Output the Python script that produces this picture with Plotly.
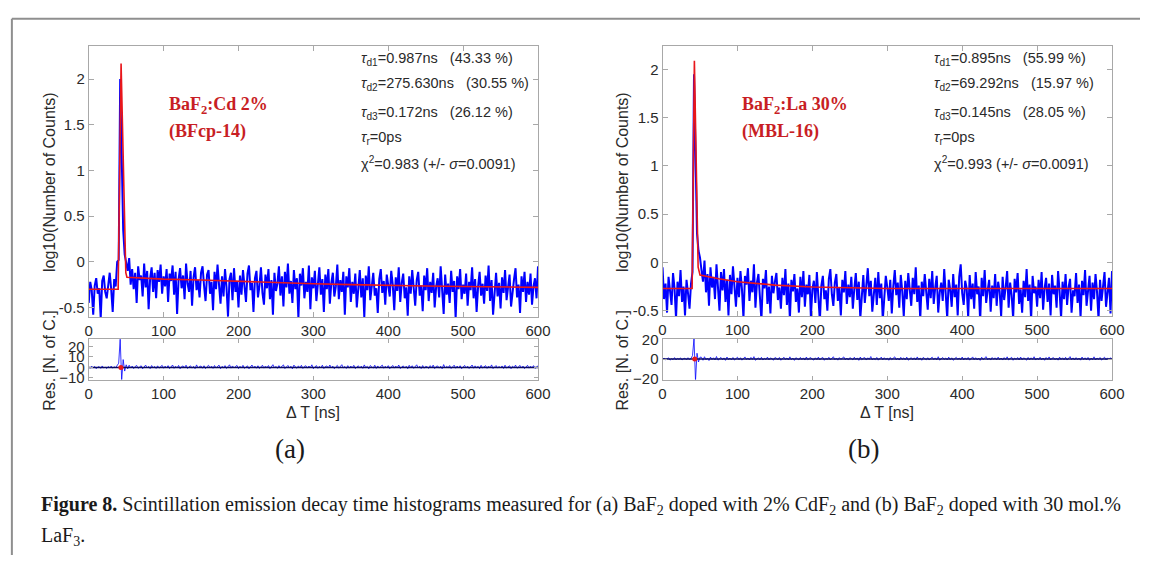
import numpy as np
import plotly.graph_objects as go

W, H = 1153, 562

# ---- time axis (2 ns bins) ----
t = np.arange(0, 601, 2)

# ---- (a) BaF2:Cd 2% : log10(counts) ----
counts_a = [
    -0.45, -0.22, -0.31, -0.58, -0.26, -0.18, -0.35, -0.29, -0.62, -0.21,
    -0.15, -0.33, -0.40, -0.24, -0.12, -0.30, -0.55, -0.19, -0.27, 0.00,
    0.02, 2.00, 1.30, 0.35, 0.08, -0.02,
    -0.10, 0.04, -0.25, -0.08, -0.30, -0.12, -0.45, -0.05, -0.20, -0.15, -0.38, -0.02, -0.28, -0.10, -0.52, -0.18, -0.06, -0.33, -0.12, -0.40, -0.09, -0.22, -0.03, -0.35, -0.16,
    -0.27, -0.08, -0.44, -0.13, -0.21, -0.04, -0.36, -0.11, -0.57, -0.19, -0.07, -0.29, -0.15, -0.41, -0.02, -0.24, -0.33, -0.10, -0.48, -0.17, -0.06, -0.31, -0.20, -0.39, -0.12,
    -0.05, -0.26, -0.43, -0.14, -0.09, -0.35, -0.22, -0.53, -0.11, -0.30, -0.03, -0.25, -0.46, -0.16, -0.38, -0.08, -0.28, -0.60, -0.19, -0.12, -0.42, -0.07, -0.33, -0.21, -0.50,
    -0.15, -0.36, -0.09, -0.27, -0.44, -0.13, -0.04, -0.31, -0.23, -0.55, -0.18, -0.10, -0.39, -0.26, -0.06, -0.34, -0.47, -0.14, -0.29, -0.08, -0.41, -0.20, -0.58, -0.12, -0.32,
    -0.24, -0.05, -0.37, -0.16, -0.49, -0.11, -0.28, -0.02, -0.35, -0.21, -0.45, -0.09, -0.30, -0.18, -0.62, -0.13, -0.26, -0.07, -0.40, -0.22, -0.33, -0.04, -0.52, -0.17, -0.29,
    -0.10, -0.43, -0.25, -0.06, -0.36, -0.19, -0.55, -0.14, -0.30, -0.08, -0.46, -0.23, -0.12, -0.38, -0.27, -0.03, -0.41, -0.20, -0.33, -0.11, -0.58, -0.16, -0.28, -0.07, -0.44,
    -0.22, -0.35, -0.13, -0.50, -0.26, -0.09, -0.39, -0.18, -0.61, -0.15, -0.31, -0.05, -0.42, -0.24, -0.12, -0.37, -0.29, -0.56, -0.19, -0.08, -0.34, -0.21, -0.47, -0.14, -0.27,
    -0.38, -0.10, -0.25, -0.53, -0.17, -0.32, -0.06, -0.44, -0.23, -0.13, -0.40, -0.28, -0.59, -0.16, -0.35, -0.09, -0.30, -0.48, -0.20, -0.11, -0.37, -0.26, -0.54, -0.15, -0.31,
    -0.07, -0.43, -0.22, -0.34, -0.12, -0.50, -0.27, -0.18, -0.39, -0.05, -0.29, -0.57, -0.14, -0.36, -0.24, -0.45, -0.10, -0.33, -0.21, -0.62, -0.16, -0.30, -0.08, -0.41, -0.25,
    -0.35, -0.13, -0.48, -0.22, -0.31, -0.06, -0.40, -0.19, -0.55, -0.27, -0.11, -0.37, -0.24, -0.46, -0.15, -0.32, -0.04, -0.43, -0.20, -0.58, -0.28, -0.12, -0.38, -0.23, -0.51,
    -0.17, -0.34, -0.09, -0.42, -0.26, -0.14, -0.49, -0.30, -0.19, -0.07, -0.39, -0.25, -0.56, -0.16, -0.33, -0.11, -0.44, -0.22, -0.36, -0.13, -0.47, -0.27, -0.18, -0.40, -0.05,
]

fit_a_t = [0, 39.3, 43.2, 49.5, 51, 75, 100, 150, 200, 250, 300, 350, 400, 450, 500, 550, 600]
fit_a_y = [-0.30, -0.30, 2.17, -0.12, -0.17, -0.18, -0.19, -0.20, -0.215, -0.23, -0.24, -0.25, -0.26, -0.265, -0.27, -0.275, -0.28]

res_a = [
    0.6, -0.8, 1.1, -0.4, 0.9, -1.2, 0.3, 0.7, -0.9, 1.4, -0.5, 0.2, -1.0, 0.8, -0.3, 1.2, -0.7, 0.5, -0.2, 1.6,
    4.0, 27.0, -12.0, 7.5, -3.5, 2.5,
    -1.4, 2.1, -0.6, 1.3, -1.1, 0.8, 1.9, -0.9, 0.4, 1.6, -1.3, 0.7, 2.2, -0.5, 1.0, -1.2, 1.8, -0.3, 0.9, -1.0, 1.5, -0.7, 0.6, 2.0, -0.8,
    1.2, -0.4, 1.7, -1.1, 0.5, 2.3, -0.9, 1.1, -0.6, 1.9, -1.3, 0.8, 1.4, -0.2, 2.1, -1.0, 0.6, 1.5, -0.7, 1.0, -1.2, 2.4, -0.5, 0.9, 1.3,
    -0.8, 1.6, -1.1, 0.7, 2.0, -0.4, 1.2, -0.9, 1.8, -0.6, 0.5, 2.2, -1.2, 1.0, -0.3, 1.7, -1.0, 0.8, 2.5, -0.7, 1.4, -0.5, 0.6, 1.9, -1.1,
    1.1, -0.6, 2.0, -0.9, 0.7, 1.5, -1.3, 0.9, 2.3, -0.4, 1.2, -0.8, 1.6, -1.0, 0.5, 2.1, -0.7, 1.3, -0.2, 1.8, -1.2, 0.8, 2.6, -0.5, 1.0,
    -0.9, 1.7, -0.3, 1.2, 2.4, -1.1, 0.6, 1.9, -0.6, 1.1, -1.3, 2.2, 0.4, -0.8, 1.5, -0.5, 2.0, -1.0, 0.9, 1.6, -0.7, 1.3, -0.2, 2.5, -1.2,
    0.7, 1.8, -0.9, 1.0, -0.4, 2.1, -1.1, 0.8, 1.4, -0.6, 2.3, -0.3, 1.2, -1.2, 0.5, 1.9, -0.8, 1.1, 2.6, -0.5, 0.9, -1.0, 1.7, -0.7, 1.3,
    -0.4, 2.0, -1.1, 0.8, 1.6, -0.6, 1.2, -0.9, 2.4, -0.2, 1.0, -1.3, 1.8, 0.5, -0.7, 2.1, -1.0, 1.4, -0.5, 0.9, 2.2, -0.8, 1.1, -0.3, 1.7,
    -1.2, 0.6, 1.9, -0.7, 1.3, -0.4, 2.3, -1.0, 0.8, 1.5, -0.6, 1.1, -1.2, 2.0, -0.3, 1.6, -0.9, 0.7, 2.5, -0.5, 1.2, -1.1, 1.8, -0.8, 1.0,
    0.5, -0.9, 1.7, -0.4, 2.2, -1.1, 0.9, 1.4, -0.7, 1.1, -1.3, 2.7, -0.5, 1.0, -0.2, 1.8, -1.0, 0.6, 2.1, -0.8, 1.3, -0.6, 1.6, -1.2, 0.8,
    1.9, -0.5, 1.2, -1.0, 0.7, 2.3, -0.8, 1.5, -0.3, 1.1, -1.2, 2.0, -0.6, 0.9, 1.7, -0.9, 1.3, -0.4, 2.4, -1.1, 0.6, 1.8, -0.7, 1.0, -0.5,
    1.4, -1.0, 2.1, -0.6, 0.8, 1.6, -1.2, 1.1, -0.3, 2.2, -0.8, 0.7, 1.9, -0.5, 1.3, -1.1, 0.9, 2.0, -0.7, 1.2, -0.4, 1.7, -0.9, 0.6, 1.5,
]

# ---- (b) BaF2:La 30% : log10(counts) ----
counts_b = [
    -0.05, -0.38, -0.22, -0.52, -0.15, -0.30, -0.44, -0.11, -0.27, -0.58,
    -0.20, -0.35, -0.08, -0.41, -0.25, -0.55, -0.18, -0.32, -0.48, -0.22,
    -0.10, 1.95, 1.10, 0.30, 0.12, 0.05,
    -0.08, -0.20, 0.02, -0.31, -0.12, -0.45, -0.05, -0.26, -0.15, -0.38, -0.02, -0.22, -0.50, -0.10, -0.29, -0.07, -0.41, -0.18, -0.55, -0.13, -0.33, -0.04, -0.24, -0.46, -0.16,
    -0.36, -0.09, -0.28, -0.58, -0.14, -0.23, -0.06, -0.40, -0.19, -0.31, -0.02, -0.47, -0.21, -0.12, -0.35, -0.60, -0.17, -0.27, -0.08, -0.43, -0.25, -0.53, -0.14, -0.32, -0.20,
    -0.11, -0.39, -0.26, -0.48, -0.16, -0.34, -0.07, -0.44, -0.22, -0.59, -0.18, -0.30, -0.12, -0.41, -0.27, -0.52, -0.15, -0.36, -0.09, -0.46, -0.23, -0.33, -0.13, -0.57, -0.28,
    -0.19, -0.42, -0.10, -0.35, -0.61, -0.24, -0.14, -0.38, -0.29, -0.50, -0.17, -0.07, -0.33, -0.45, -0.21, -0.12, -0.40, -0.26, -0.55, -0.18, -0.31, -0.09, -0.43, -0.23, -0.36,
    -0.15, -0.48, -0.27, -0.11, -0.39, -0.20, -0.58, -0.30, -0.13, -0.42, -0.24, -0.06, -0.35, -0.19, -0.51, -0.28, -0.16, -0.44, -0.10, -0.37, -0.22, -0.60, -0.31, -0.14, -0.26,
    -0.40, -0.18, -0.53, -0.25, -0.08, -0.34, -0.21, -0.47, -0.13, -0.30, -0.56, -0.19, -0.38, -0.11, -0.27, -0.45, -0.16, -0.33, -0.05, -0.41, -0.24, -0.59, -0.20, -0.35, -0.12,
    -0.29, -0.49, -0.17, -0.37, -0.09, -0.43, -0.26, -0.14, -0.52, -0.31, -0.21, -0.40, -0.07, -0.34, -0.58, -0.18, -0.28, -0.46, -0.12, -0.36, -0.23, -0.55, -0.15, -0.02, -0.32,
    -0.44, -0.19, -0.27, -0.57, -0.13, -0.38, -0.22, -0.48, -0.10, -0.33, -0.25, -0.61, -0.16, -0.35, -0.08, -0.42, -0.29, -0.18, -0.51, -0.24, -0.37, -0.12, -0.45, -0.20, -0.30,
    -0.56, -0.15, -0.39, -0.26, -0.09, -0.47, -0.21, -0.34, -0.58, -0.17, -0.31, -0.11, -0.43, -0.28, -0.52, -0.19, -0.36, -0.07, -0.40, -0.23, -0.60, -0.14, -0.32, -0.25, -0.46,
    -0.18, -0.37, -0.10, -0.49, -0.27, -0.16, -0.41, -0.22, -0.55, -0.13, -0.33, -0.24, -0.47, -0.09, -0.30, -0.58, -0.20, -0.38, -0.12, -0.44, -0.26, -0.17, -0.52, -0.29, -0.35,
    -0.11, -0.42, -0.23, -0.57, -0.19, -0.34, -0.08, -0.45, -0.27, -0.14, -0.50, -0.21, -0.38, -0.12, -0.31, -0.59, -0.18, -0.40, -0.25, -0.10, -0.46, -0.29, -0.16, -0.53, -0.09,
]

fit_b_t = [0, 39.5, 42.5, 47.5, 50, 75, 100, 150, 200, 250, 300, 400, 500, 600]
fit_b_y = [-0.27, -0.27, 2.09, -0.05, -0.13, -0.17, -0.20, -0.235, -0.255, -0.265, -0.27, -0.27, -0.27, -0.27]

res_b = [
    -0.5, 1.0, -0.8, 0.6, 1.3, -1.1, 0.4, -0.6, 1.5, -0.9, 0.7, -0.3, 1.2, -1.0, 0.5, 0.9, -0.7, 1.4, -0.4, 0.8,
    3.5, 21.0, -22.0, 6.0, -3.0, 2.0,
    1.8, -1.2, 2.4, -0.7, 1.1, -1.5, 2.0, -0.4, 1.3, -0.9, 2.6, -1.1, 0.8, 1.7, -0.6, 1.2, -1.3, 2.1, -0.5, 1.0, -0.8, 1.6, -1.0, 0.7, 1.9,
    -0.6, 1.4, -1.1, 0.9, 2.2, -0.4, 1.1, -0.9, 1.7, -0.3, 2.5, -1.2, 0.6, 1.3, -0.7, 1.8, -1.0, 0.8, -0.5, 2.0, -0.8, 1.2, 0.4, -1.1, 1.5,
    0.9, -0.7, 1.6, -1.2, 0.5, 1.9, -0.4, 1.1, -0.9, 2.3, -0.6, 1.0, -1.3, 1.4, 0.3, -0.8, 1.7, -0.5, 1.2, -1.0, 2.1, -0.7, 0.8, 1.5, -0.3,
    -1.0, 1.3, -0.5, 2.0, -0.8, 0.9, 1.6, -1.2, 0.7, -0.4, 1.8, -0.9, 1.2, 2.4, -0.6, 1.0, -1.1, 1.5, -0.3, 0.8, 2.2, -0.7, 1.1, -1.0, 1.4,
    0.6, -0.8, 1.9, -0.4, 1.2, -1.3, 2.1, -0.6, 0.9, 1.5, -1.0, 1.3, -0.2, 2.6, -0.9, 0.7, -0.5, 1.7, -1.1, 1.0, 2.0, -0.7, 1.4, -0.4, 0.8,
    -1.2, 1.6, -0.5, 1.1, 2.3, -0.8, 0.9, -1.0, 1.8, -0.3, 1.2, -0.7, 2.0, -1.1, 0.6, 1.5, -0.6, 1.3, -0.9, 2.2, -0.4, 1.0, -1.2, 1.7, 0.5,
    -0.7, 1.4, -1.0, 0.8, 1.9, -0.5, 1.2, -0.8, 2.4, -1.1, 0.7, 1.6, -0.4, 1.1, -0.9, 2.0, -0.6, 1.3, -1.2, 0.9, 1.8, -0.3, 1.0, -0.7, 2.1,
    -0.9, 1.2, -0.4, 1.7, -1.1, 0.8, 2.2, -0.6, 1.4, -0.8, 1.0, -1.3, 1.9, -0.5, 1.1, 2.5, -0.7, 0.9, -1.0, 1.6, -0.2, 1.3, -0.8, 2.0, -0.6,
    1.1, -1.0, 1.5, -0.5, 2.3, -0.8, 0.7, 1.8, -1.2, 1.0, -0.4, 1.6, -0.9, 2.1, -0.6, 1.2, 0.4, -1.1, 1.7, -0.7, 1.3, -0.3, 2.4, -1.0, 0.8,
    -0.5, 1.9, -0.8, 1.1, -1.2, 1.6, -0.3, 2.2, -0.9, 0.9, 1.4, -0.6, 1.0, -1.1, 2.0, -0.4, 1.3, -0.7, 1.8, -1.0, 0.7, 2.5, -0.5, 1.2, -0.9,
    1.5, -0.6, 1.0, -1.1, 2.1, -0.4, 1.3, -0.8, 1.7, -1.2, 0.9, -0.5, 2.3, -0.9, 1.1, -0.3, 1.6, -1.0, 0.8, 1.9, -0.7, 1.2, -0.4, 1.4, -0.8,
]

peak_t = [43.0]  # position of the fit maximum, marked on the residual panels

# ---- fit parameter text ----
params_a = [
    ("d1", "0.987ns", "43.33 %"),
    ("d2", "275.630ns", "30.55 %"),
    ("d3", "0.172ns", "26.12 %"),
]
chi_a = ("0.983", "0.0091")
params_b = [
    ("d1", "0.895ns", "55.99 %"),
    ("d2", "69.292ns", "15.97 %"),
    ("d3", "0.145ns", "28.05 %"),
]
chi_b = ("0.993", "0.0091")

sample_a = ("BaF<sub>2</sub>:Cd 2%", "(BFcp-14)")
sample_b = ("BaF<sub>2</sub>:La 30%", "(MBL-16)")

xticks = [0, 100, 200, 300, 400, 500, 600]
yticks_main = [-0.5, 0, 0.5, 1, 1.5, 2]
yticklabels_main = ["-0.5", "0", "0.5", "1", "1.5", "2"]
yticks_res_a = [-10, 0, 10, 20]
yticks_res_b = [-20, 0, 20]


def px(x):
    return x / W


def py(y):
    return 1 - y / H


BLUE = "#0000ff"
RED = "#e8161b"
NAVY = "#0a0a60"
LABEL_RED = "#c81e24"
AXC = "#a8a8a8"
TXT = "#2a2a2a"
SANS = "Liberation Sans, Arial, sans-serif"
SERIF = "Liberation Serif, Times New Roman, serif"

fig = go.Figure()

panels = [
    ("x", "y", "x2", "y2", counts_a, fit_a_t, fit_a_y, res_a),
    ("x3", "y3", "x4", "y4", counts_b, fit_b_t, fit_b_y, res_b),
]
for xm, ym, xr, yr, cnt, ft, fy, rs in panels:
    fig.add_trace(go.Scatter(x=t, y=cnt, xaxis=xm, yaxis=ym, mode="lines",
                             line=dict(color=BLUE, width=2), hoverinfo="skip"))
    fig.add_trace(go.Scatter(x=ft, y=fy, xaxis=xm, yaxis=ym, mode="lines",
                             line=dict(color=RED, width=1.6), hoverinfo="skip"))
    fig.add_trace(go.Scatter(x=t, y=rs, xaxis=xr, yaxis=yr, mode="lines",
                             line=dict(color=BLUE, width=0.8), hoverinfo="skip"))
    fig.add_trace(go.Scatter(x=[0, 600], y=[0, 0], xaxis=xr, yaxis=yr, mode="lines",
                             line=dict(color=NAVY, width=1.5), hoverinfo="skip"))
    fig.add_trace(go.Scatter(x=peak_t, y=[0], xaxis=xr, yaxis=yr, mode="markers",
                             marker=dict(color=RED, size=5), hoverinfo="skip"))


def axis(domain, rng, tickvals, ticktext=None, anchor=None, ticklen=5):
    d = dict(domain=domain, range=rng, tickvals=tickvals,
             showline=True, linecolor=AXC, linewidth=1, mirror="ticks",
             ticks="inside", ticklen=ticklen, tickcolor=AXC, tickwidth=1,
             showgrid=False, zeroline=False, fixedrange=True,
             tickfont=dict(family=SANS, size=15, color=TXT), anchor=anchor)
    if ticktext is not None:
        d["ticktext"] = ticktext
    return d


xa = [px(86), px(542)]
xb = [px(668.4), px(1124.6)]
ya_main = [py(317.7), py(39.3)]
yb_main = [py(316.7), py(39.3)]
y_res = [py(381.7), py(340)]

fig.update_layout(
    width=W, height=H, margin=dict(l=0, r=0, t=0, b=0),
    paper_bgcolor="white", plot_bgcolor="white", showlegend=False,
    xaxis=axis(xa, [0, 600], xticks, anchor="y"),
    yaxis=axis(ya_main, [-0.607, 2.36], yticks_main, yticklabels_main, anchor="x"),
    xaxis2=axis(xa, [0, 600], xticks, anchor="y2", ticklen=4),
    yaxis2=axis(y_res, [-11.6, 27.3], yticks_res_a, anchor="x2", ticklen=4),
    xaxis3=axis(xb, [0, 600], xticks, anchor="y3"),
    yaxis3=axis(yb_main, [-0.558, 2.24], yticks_main, yticklabels_main, anchor="x3"),
    xaxis4=axis(xb, [0, 600], xticks, anchor="y4", ticklen=4),
    yaxis4=axis(y_res, [-21, 20.7], yticks_res_b, anchor="x4", ticklen=4),
)

ann = []


def text(x, y, s, size, family=SANS, color=TXT, xanchor="left", yanchor="middle", angle=0):
    ann.append(dict(x=px(x), y=py(y), xref="paper", yref="paper", text=s,
                    showarrow=False, xanchor=xanchor, yanchor=yanchor, textangle=angle,
                    font=dict(family=family, size=size, color=color)))


NB = "\u00a0"
for left, xl_title, params, chi, sample, sample_x, tag_x, tx, tag in [
    (86, 46, params_a, chi_a, sample_a, 165.4, 290, 360.7, "(a)"),
    (668.4, 627.5, params_b, chi_b, sample_b, 747.4, 872.4, 941.8, "(b)"),
]:
    right = left + 456
    # axis titles
    text(xl_title, 178.5, "log10(Number of Counts)", 16, xanchor="center", angle=-90)
    text(xl_title, 362, "Res. [N. of C.]", 16, xanchor="center", angle=-90)
    text((left + right) / 2, 416, "\u0394 T [ns]", 16, xanchor="center")
    # panel tag
    text(tag_x, 453, tag, 27, family=SERIF, color="#1a1a1a", xanchor="center")
    # sample label
    text(sample_x, 100, "<b>" + sample[0] + "</b>", 18, family=SERIF, color=LABEL_RED)
    text(sample_x, 127, "<b>" + sample[1] + "</b>", 18, family=SERIF, color=LABEL_RED)
    # fit parameters
    ys = [52, 78, 108, 134, 159]
    for (sub, val, pct), yy in zip(params, ys[:3]):
        text(tx, yy, "<i>\u03c4</i><sub>" + sub + "</sub>=" + val + NB * 3 + "(" + pct + ")", 14.5)
    text(tx, ys[3], "<i>\u03c4</i><sub>r</sub>=0ps", 14.5)
    text(tx, ys[4], "\u03c7<sup>2</sup>=" + chi[0] + " (+/- <i>\u03c3</i>=" + chi[1] + ")", 14.5)

# caption
text(36, 511, "<b>Figure 8.</b> Scintillation emission decay time histograms measured for "
     "(a) BaF<sub>2</sub> doped with 2% CdF<sub>2</sub> and (b) BaF<sub>2</sub> doped with 30 mol.%",
     20, family=SERIF, color="#1a1a1a")
text(36, 543, "LaF<sub>3</sub>.", 20, family=SERIF, color="#1a1a1a")

fig.update_layout(annotations=ann)

# page frame
fig.update_layout(shapes=[
    dict(type="line", xref="paper", yref="paper", x0=px(8), x1=1, y0=py(11), y1=py(11),
         line=dict(color="#8f8f8f", width=2)),
    dict(type="line", xref="paper", yref="paper", x0=px(8), x1=px(8), y0=py(11), y1=0,
         line=dict(color="#8f8f8f", width=2)),
])

fig.write_html("out.html")
